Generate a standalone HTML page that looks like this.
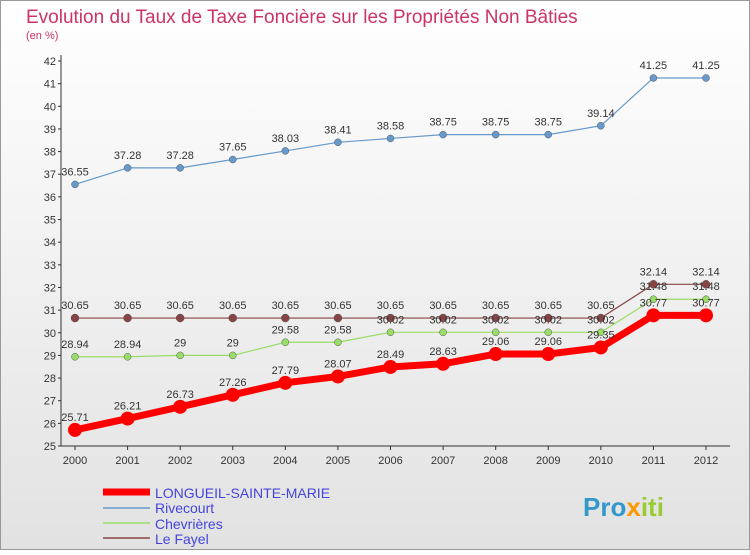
<!DOCTYPE html>
<html><head><meta charset="utf-8"><style>
body{margin:0;width:750px;height:550px;overflow:hidden;font-family:"Liberation Sans",sans-serif}
</style></head><body>
<svg id="c" width="750" height="550" xmlns="http://www.w3.org/2000/svg">
<defs><linearGradient id="bg" x1="0" y1="0" x2="0" y2="1"><stop offset="0" stop-color="#ffffff"/><stop offset="1" stop-color="#e2e2e2"/></linearGradient></defs>
<rect x="0.5" y="0.5" width="749" height="549" fill="url(#bg)" stroke="#999"/>
<text x="26" y="23" font-size="19" fill="#cc3366">Evolution du Taux de Taxe Foncière sur les Propriétés Non Bâties</text>
<text x="26" y="39" font-size="11" fill="#cc3366">(en %)</text>
<g id="axes"></g><g id="series"></g>
<g>
<line x1="103" y1="492" x2="150" y2="492" stroke="#ff0000" stroke-width="7"/>
<text x="155" y="498" font-size="14" fill="#4444dd">LONGUEIL-SAINTE-MARIE</text>
<line x1="103" y1="508" x2="150" y2="508" stroke="#6699cc" stroke-width="1.5"/>
<text x="155" y="513" font-size="14" fill="#4444dd">Rivecourt</text>
<line x1="103" y1="523" x2="150" y2="523" stroke="#99dd66" stroke-width="1.5"/>
<text x="155" y="529" font-size="14" fill="#4444dd">Chevrières</text>
<line x1="103" y1="538" x2="150" y2="538" stroke="#884444" stroke-width="1.5"/>
<text x="155" y="544" font-size="14" fill="#4444dd">Le Fayel</text>
</g>
<text x="583" y="516" font-size="26" font-weight="bold" fill="#3399cc">Pro<tspan fill="#ff9900">x</tspan><tspan fill="#99cc33">iti</tspan></text>
</svg>
<script>
const years=[2000,2001,2002,2003,2004,2005,2006,2007,2008,2009,2010,2011,2012];
const yTicks=[25,26,27,28,29,30,31,32,33,34,35,36,37,38,39,40,41,42];
const longueil=[25.71,26.21,26.73,27.26,27.79,28.07,28.49,28.63,29.06,29.06,29.35,30.77,30.77];
const rivecourt=[36.55,37.28,37.28,37.65,38.03,38.41,38.58,38.75,38.75,38.75,39.14,41.25,41.25];
const chevrieres=[28.94,28.94,29,29,29.58,29.58,30.02,30.02,30.02,30.02,30.02,31.48,31.48];
const fayel=[30.65,30.65,30.65,30.65,30.65,30.65,30.65,30.65,30.65,30.65,30.65,32.14,32.14];
const NS="http://www.w3.org/2000/svg";
const x=i=>75+i*(706-75)/(years.length-1);
const y=v=>446-(v-25)*(446-61)/17;
function mk(t,a,p){const e=document.createElementNS(NS,t);for(const k in a)e.setAttribute(k,a[k]);p.appendChild(e);return e;}
const ax=document.getElementById('axes');
const yl=mk('line',{x1:61,y1:55,x2:61,y2:446,stroke:'#333'},ax);


const xl=mk('line',{x1:61,y1:446,x2:730,y2:446,stroke:'#333'},ax);


yTicks.forEach(v=>{mk('line',{x1:58,y1:y(v),x2:61,y2:y(v),stroke:'#333'},ax);
const t=mk('text',{x:56,y:y(v)+4,'font-size':11,'text-anchor':'end',fill:'#333'},ax);t.textContent=v;

});
years.forEach((yr,i)=>{mk('line',{x1:x(i),y1:446,x2:x(i),y2:450,stroke:'#333'},ax);
const t=mk('text',{x:x(i),y:464,'font-size':11,'text-anchor':'middle',fill:'#333'},ax);t.textContent=yr;

});
const sg=document.getElementById('series');
function draw(d,col,w,r,name,lab){
const pl=mk('polyline',{points:d.map((v,i)=>x(i)+','+y(v)).join(' '),fill:'none',stroke:col,'stroke-width':w,'stroke-linejoin':'round'},sg);


d.forEach((v,i)=>{const c=mk('circle',{cx:x(i),cy:y(v),r:r,fill:col,stroke:'#555','stroke-width':w>3?0:0.5},sg);


if(lab){const t=mk('text',{x:x(i),y:y(v)-9,'font-size':11,'text-anchor':'middle',fill:'#333'},sg);t.textContent=v;

}});}
draw(rivecourt,'#6699cc',1.2,3.5,'rivecourt',true);
draw(fayel,'#884444',1.2,4,'le-fayel',true);
draw(chevrieres,'#99dd66',1.2,3.5,'chevrieres',true);
draw(longueil,'#ff0000',7,7,'longueil',true);
</script>
</body></html>
